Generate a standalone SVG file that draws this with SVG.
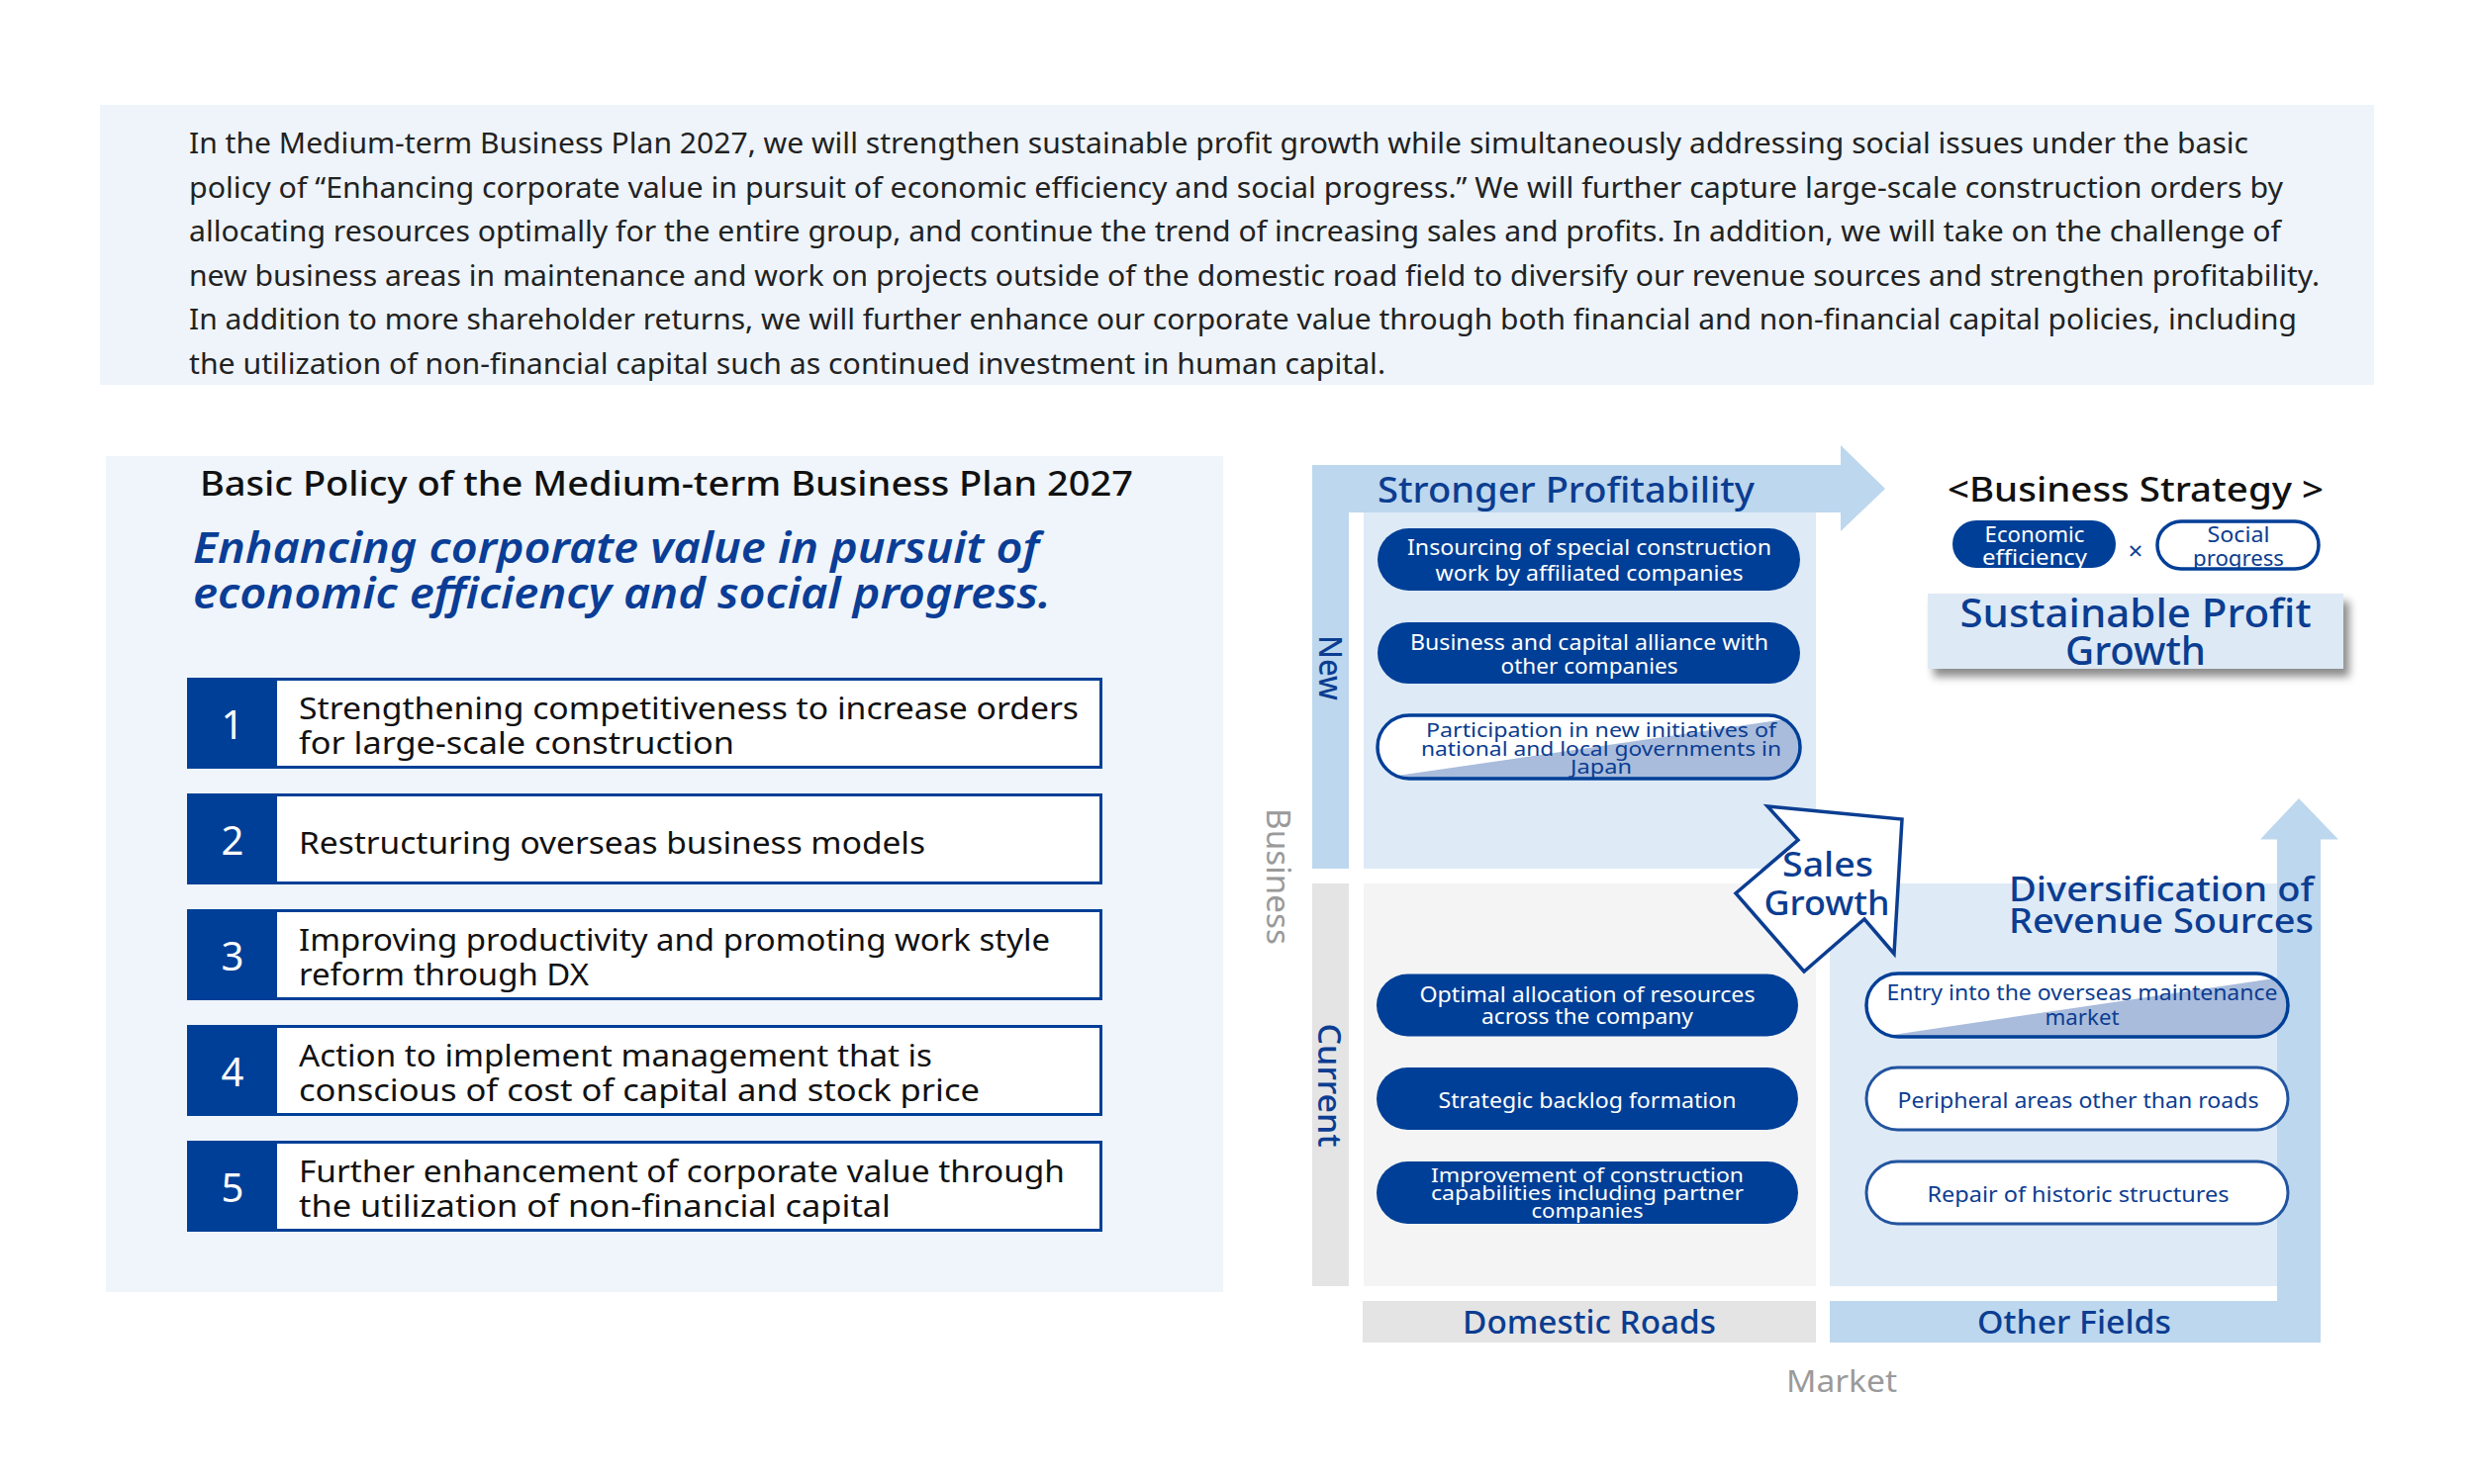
<svg xmlns="http://www.w3.org/2000/svg" width="2500" height="1500" viewBox="0 0 2500 1500">
<defs>
<style>
text{font-family:"Noto Sans","Open Sans","Liberation Sans",sans-serif;}
.para{font-size:28.5px;fill:#222;}
.title{font-size:35px;fill:#111;font-weight:500;}
.ital{font-size:43px;fill:#0a3d96;font-style:italic;font-weight:600;}
.num{font-size:40px;fill:#fff;text-anchor:middle;}
.item{font-size:31px;fill:#111;}
.pillw{font-size:21px;fill:#fff;text-anchor:middle;}
.pillb{font-size:21px;fill:#0b3d91;text-anchor:middle;}
.tight{font-size:19.5px;}
.head{fill:#0b3d91;font-weight:500;}
.gray{fill:#9a9a9a;}
.dark{fill:#003f97;}
.outl2{fill:#fff;stroke:#22549f;stroke-width:3;}
.numcol{fill:#003f97;}
.itembox{fill:#fff;stroke:#003f97;stroke-width:3;}
.tri{fill:#a9bcdc;}
</style>
<filter id="shadow" x="-10%" y="-20%" width="130%" height="160%">
<feDropShadow dx="6" dy="8" stdDeviation="4" flood-color="#000" flood-opacity="0.45"/>
</filter>
<clipPath id="cp3"><rect x="1392" y="723" width="427" height="64" rx="32"/></clipPath>
<clipPath id="cpE"><rect x="1886" y="984" width="426" height="64" rx="32"/></clipPath>
<clipPath id="cpEco"><rect x="1973" y="526" width="165" height="48" rx="24"/></clipPath>
<clipPath id="cpSoc"><rect x="2180" y="527" width="163" height="48" rx="24"/></clipPath>
</defs>

<rect width="2500" height="1500" fill="#fff"/>

<g id="intro">
<rect x="101" y="106" width="2298" height="283" fill="#eef4fa"/>
<text class="para" x="191" y="155" textLength="2081" lengthAdjust="spacingAndGlyphs">In the Medium-term Business Plan 2027, we will strengthen sustainable profit growth while simultaneously addressing social issues under the basic</text>
<text class="para" x="191" y="199.6" textLength="2116" lengthAdjust="spacingAndGlyphs">policy of “Enhancing corporate value in pursuit of economic efficiency and social progress.” We will further capture large-scale construction orders by</text>
<text class="para" x="191" y="244.2" textLength="2114" lengthAdjust="spacingAndGlyphs">allocating resources optimally for the entire group, and continue the trend of increasing sales and profits. In addition, we will take on the challenge of</text>
<text class="para" x="191" y="288.8" textLength="2153" lengthAdjust="spacingAndGlyphs">new business areas in maintenance and work on projects outside of the domestic road field to diversify our revenue sources and strengthen profitability.</text>
<text class="para" x="191" y="333.4" textLength="2130" lengthAdjust="spacingAndGlyphs">In addition to more shareholder returns, we will further enhance our corporate value through both financial and non-financial capital policies, including</text>
<text class="para" x="191" y="378" textLength="1209" lengthAdjust="spacingAndGlyphs">the utilization of non-financial capital such as continued investment in human capital.</text>
</g>

<g id="basic-policy">
<rect x="107" y="461" width="1129" height="845" fill="#eff5fa"/>
<text class="title" x="202" y="501" textLength="943" lengthAdjust="spacingAndGlyphs">Basic Policy of the Medium-term Business Plan 2027</text>
<text class="ital" x="195" y="569" textLength="855" lengthAdjust="spacingAndGlyphs">Enhancing corporate value in pursuit of</text>
<text class="ital" x="195" y="615" textLength="867" lengthAdjust="spacingAndGlyphs">economic efficiency and social progress.</text>
</g>

<g id="item1">
<rect class="itembox" x="190.5" y="686.5" width="922" height="89"/>
<rect class="numcol" x="189" y="685" width="91" height="92"/>
<text class="num" x="235" y="747">1</text>
<text class="item" x="302" y="727" textLength="788" lengthAdjust="spacingAndGlyphs">Strengthening competitiveness to increase orders</text>
<text class="item" x="302" y="762" textLength="440" lengthAdjust="spacingAndGlyphs">for large-scale construction</text>
</g>
<g id="item2">
<rect class="itembox" x="190.5" y="803.5" width="922" height="89"/>
<rect class="numcol" x="189" y="802" width="91" height="92"/>
<text class="num" x="235" y="864">2</text>
<text class="item" x="302" y="863" textLength="633" lengthAdjust="spacingAndGlyphs">Restructuring overseas business models</text>
</g>
<g id="item3">
<rect class="itembox" x="190.5" y="920.5" width="922" height="89"/>
<rect class="numcol" x="189" y="919" width="91" height="92"/>
<text class="num" x="235" y="981">3</text>
<text class="item" x="302" y="961" textLength="759" lengthAdjust="spacingAndGlyphs">Improving productivity and promoting work style</text>
<text class="item" x="302" y="996" textLength="293" lengthAdjust="spacingAndGlyphs">reform through DX</text>
</g>
<g id="item4">
<rect class="itembox" x="190.5" y="1037.5" width="922" height="89"/>
<rect class="numcol" x="189" y="1036" width="91" height="92"/>
<text class="num" x="235" y="1098">4</text>
<text class="item" x="302" y="1078" textLength="640" lengthAdjust="spacingAndGlyphs">Action to implement management that is</text>
<text class="item" x="302" y="1113" textLength="688" lengthAdjust="spacingAndGlyphs">conscious of cost of capital and stock price</text>
</g>
<g id="item5">
<rect class="itembox" x="190.5" y="1154.5" width="922" height="89"/>
<rect class="numcol" x="189" y="1153" width="91" height="92"/>
<text class="num" x="235" y="1215">5</text>
<text class="item" x="302" y="1195" textLength="774" lengthAdjust="spacingAndGlyphs">Further enhancement of corporate value through</text>
<text class="item" x="302" y="1230" textLength="598" lengthAdjust="spacingAndGlyphs">the utilization of non-financial capital</text>
</g>

<g id="matrix-areas">
<rect x="1378" y="518" width="457" height="360" fill="#deeaf6"/>
<rect x="1326" y="893" width="37" height="407" fill="#e4e4e4"/>
<rect x="1378" y="893" width="457" height="407" fill="#f4f4f4"/>
<rect x="1849" y="893" width="452" height="407" fill="#deeaf6"/>
<rect x="1377" y="1315" width="458" height="42" fill="#e4e4e4"/>
<rect x="1849" y="1315" width="496" height="42" fill="#bdd7ee"/>
</g>

<g id="connectors">
<path id="arrow-profitability" d="M1326,470 L1860,470 L1860,450 L1905,494 L1860,537 L1860,518 L1363,518 L1363,878 L1326,878 Z" fill="#bdd7ee"/>
<path id="arrow-diversification" d="M2301,1357 L2301,848.5 L2284,848.5 L2323,807 L2363,848.5 L2345,848.5 L2345,1357 Z" fill="#bdd7ee"/>
</g>

<g id="axis-labels">
<text class="head" x="1392" y="508" font-size="36" textLength="381" lengthAdjust="spacingAndGlyphs">Stronger Profitability</text>
<text class="head" transform="translate(1333,675) rotate(90)" font-size="33" text-anchor="middle" textLength="66" lengthAdjust="spacingAndGlyphs">New</text>
<text class="head" transform="translate(1332,1097) rotate(90)" font-size="33" text-anchor="middle" textLength="125" lengthAdjust="spacingAndGlyphs">Current</text>
<text class="gray" transform="translate(1280,886) rotate(90)" font-size="33" text-anchor="middle" textLength="138" lengthAdjust="spacingAndGlyphs">Business</text>
<text class="head" x="1606" y="1348" font-size="32" text-anchor="middle" textLength="256" lengthAdjust="spacingAndGlyphs">Domestic Roads</text>
<text class="head" x="2096" y="1348" font-size="32" text-anchor="middle" textLength="196" lengthAdjust="spacingAndGlyphs">Other Fields</text>
<text class="gray" x="1861" y="1407" font-size="31" text-anchor="middle" textLength="112" lengthAdjust="spacingAndGlyphs">Market</text>
<text class="head" x="2030" y="911" font-size="34" textLength="308" lengthAdjust="spacingAndGlyphs">Diversification of</text>
<text class="head" x="2030" y="943" font-size="34" textLength="308" lengthAdjust="spacingAndGlyphs">Revenue Sources</text>
</g>

<g id="pill-insourcing">
<rect class="dark" x="1392" y="534" width="427" height="63" rx="31.5"/>
<text class="pillw" x="1606" y="561" textLength="368" lengthAdjust="spacingAndGlyphs">Insourcing of special construction</text>
<text class="pillw" x="1606" y="587" textLength="311" lengthAdjust="spacingAndGlyphs">work by affiliated companies</text>
</g>
<g id="pill-alliance">
<rect class="dark" x="1392" y="629" width="427" height="62" rx="31"/>
<text class="pillw" x="1606" y="657" textLength="362" lengthAdjust="spacingAndGlyphs">Business and capital alliance with</text>
<text class="pillw" x="1606" y="681" textLength="179" lengthAdjust="spacingAndGlyphs">other companies</text>
</g>
<g id="pill-participation">
<rect x="1392" y="723" width="427" height="64" rx="32" fill="#fff"/>
<polygon class="tri" clip-path="url(#cp3)" points="1412,784 1811,726 1830,720 1830,800 1400,800"/>
<rect x="1392" y="723" width="427" height="64" rx="32" fill="none" stroke="#003f97" stroke-width="3.5"/>
<text class="pillb tight" x="1618" y="745" textLength="354" lengthAdjust="spacingAndGlyphs">Participation in new initiatives of</text>
<text class="pillb tight" x="1618" y="764" textLength="364" lengthAdjust="spacingAndGlyphs">national and local governments in</text>
<text class="pillb tight" x="1618" y="782" textLength="62" lengthAdjust="spacingAndGlyphs">Japan</text>
</g>

<g id="pill-optimal">
<rect class="dark" x="1391" y="984.5" width="426" height="63" rx="31.5"/>
<text class="pillw" x="1604" y="1013" textLength="339" lengthAdjust="spacingAndGlyphs">Optimal allocation of resources</text>
<text class="pillw" x="1604" y="1035" textLength="214" lengthAdjust="spacingAndGlyphs">across the company</text>
</g>
<g id="pill-backlog">
<rect class="dark" x="1391" y="1079" width="426" height="63" rx="31.5"/>
<text class="pillw" x="1604" y="1120" textLength="301" lengthAdjust="spacingAndGlyphs">Strategic backlog formation</text>
</g>
<g id="pill-capabilities">
<rect class="dark" x="1391" y="1174" width="426" height="63" rx="31.5"/>
<text class="pillw tight" x="1604" y="1195" textLength="316" lengthAdjust="spacingAndGlyphs">Improvement of construction</text>
<text class="pillw tight" x="1604" y="1213" textLength="316" lengthAdjust="spacingAndGlyphs">capabilities including partner</text>
<text class="pillw tight" x="1604" y="1231" textLength="113" lengthAdjust="spacingAndGlyphs">companies</text>
</g>

<g id="pill-overseas">
<rect x="1886" y="984" width="426" height="64" rx="32" fill="#fff"/>
<polygon class="tri" clip-path="url(#cpE)" points="1906,1047 2305,988 2320,980 2320,1060 1895,1060"/>
<rect x="1886" y="984" width="426" height="64" rx="32" fill="none" stroke="#003f97" stroke-width="3.5"/>
<text class="pillb" x="2104" y="1011" textLength="395" lengthAdjust="spacingAndGlyphs">Entry into the overseas maintenance</text>
<text class="pillb" x="2104" y="1036" textLength="75" lengthAdjust="spacingAndGlyphs">market</text>
</g>
<g id="pill-peripheral">
<rect class="outl2" x="1886" y="1079" width="426" height="63" rx="31.5"/>
<text class="pillb" x="2100" y="1120" textLength="365" lengthAdjust="spacingAndGlyphs">Peripheral areas other than roads</text>
</g>
<g id="pill-historic">
<rect class="outl2" x="1886" y="1174" width="426" height="63" rx="31.5"/>
<text class="pillb" x="2100" y="1215" textLength="305" lengthAdjust="spacingAndGlyphs">Repair of historic structures</text>
</g>

<g id="sales-growth">
<polygon points="1786,815 1922,828 1914,964 1884,929 1823,982 1754,903 1817,849" fill="#fff" stroke="#0b3d91" stroke-width="3.5" stroke-linejoin="miter"/>
<text class="head" x="1847" y="886" font-size="34" text-anchor="middle" textLength="92" lengthAdjust="spacingAndGlyphs">Sales</text>
<text class="head" x="1846" y="925" font-size="34" text-anchor="middle" textLength="127" lengthAdjust="spacingAndGlyphs">Growth</text>
</g>

<g id="business-strategy">
<text x="1968" y="507" font-size="34" fill="#111" font-weight="500" textLength="380" lengthAdjust="spacingAndGlyphs">&lt;Business Strategy &gt;</text>
</g>
<g id="economic-efficiency">
<rect class="dark" x="1973" y="526" width="165" height="48" rx="24"/>
<g clip-path="url(#cpEco)">
<text class="pillw" x="2056" y="548" textLength="101" lengthAdjust="spacingAndGlyphs">Economic</text>
<text class="pillw" x="2056" y="571" textLength="106" lengthAdjust="spacingAndGlyphs">efficiency</text>
</g>
</g>
<text x="2158" y="566" font-size="26" fill="#0b3d91" text-anchor="middle">×</text>
<g id="social-progress">
<rect x="2180" y="527" width="163" height="48" rx="24" fill="#fff"/>
<g clip-path="url(#cpSoc)">
<text class="pillb" x="2262" y="548" textLength="63" lengthAdjust="spacingAndGlyphs">Social</text>
<text class="pillb" x="2262" y="572" textLength="92" lengthAdjust="spacingAndGlyphs">progress</text>
</g>
<rect x="2180" y="527" width="163" height="48" rx="24" fill="none" stroke="#003f97" stroke-width="3.5"/>
</g>
<g id="sustainable-profit-growth">
<rect x="1948" y="600" width="420" height="76" fill="#dde9f5" filter="url(#shadow)"/>
<text class="head" x="2158" y="634" font-size="39" text-anchor="middle" textLength="355" lengthAdjust="spacingAndGlyphs">Sustainable Profit</text>
<text class="head" x="2158" y="672" font-size="39" text-anchor="middle" textLength="142" lengthAdjust="spacingAndGlyphs">Growth</text>
</g>
</svg>
